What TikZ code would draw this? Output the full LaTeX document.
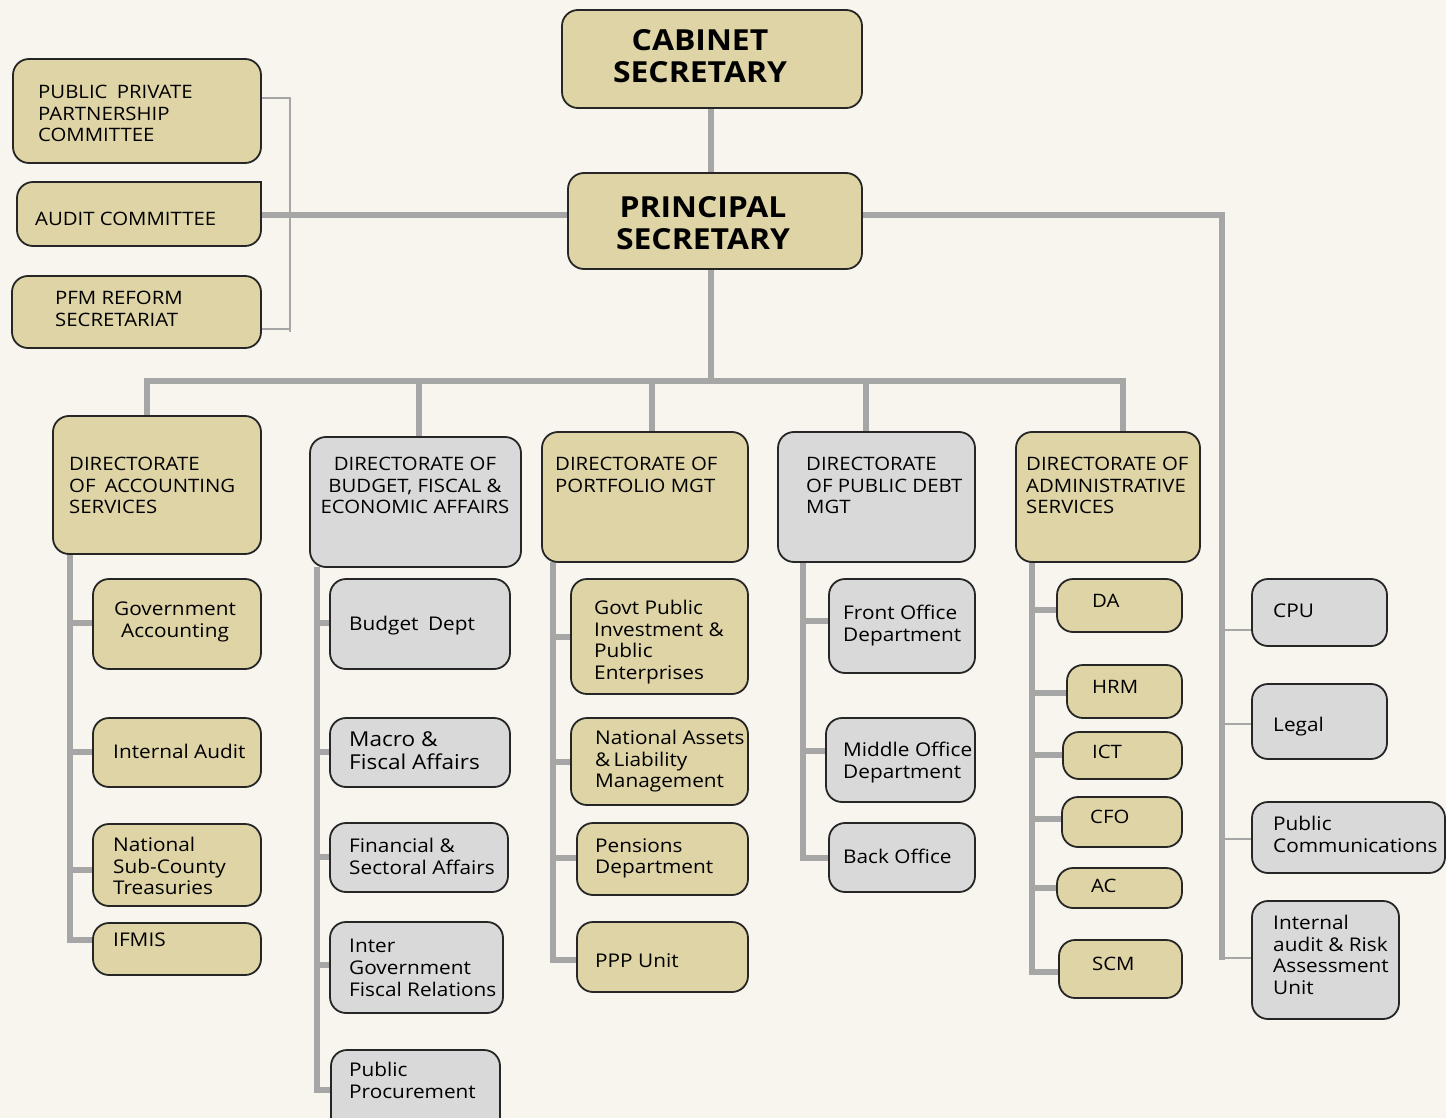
\documentclass[tikz,border=0pt]{standalone}
\usepackage{fontspec}
\setmainfont{Open Sans}[FakeStretch=1.1]
\definecolor{bgcol}{HTML}{F7F5EE}
\definecolor{tanfill}{HTML}{DED4A6}
\definecolor{greyfill}{HTML}{D9D9D9}
\definecolor{boxline}{HTML}{262626}
\definecolor{lineg}{HTML}{A6A6A6}
\pgfdeclarelayer{bglayer}
\pgfdeclarelayer{connlayer}
\pgfsetlayers{bglayer,connlayer,main}
\newcommand\mybox[6]{%
  \node[#2, minimum width={(#5-#3)*1pt}, minimum height={(#6-#4)*1pt}] (#1) at ({(#3+#5)/2},{(#4+#6)/2}) {};}
\begin{document}
\begin{tikzpicture}[x=1pt,y=-1pt,
  obox/.style={draw=boxline, line width=1.8pt, rounded corners=16pt, inner sep=0pt, outer sep=0pt},
  tanbox/.style={obox, fill=tanfill},
  greybox/.style={obox, fill=greyfill},
  capt/.style={inner sep=0pt, anchor=north west, align=left, font=\fontsize{18.5}{21.5}\selectfont},
  lowt/.style={inner sep=0pt, anchor=north west, align=left, font=\fontsize{18.9}{21.7}\selectfont},
  bigt/.style={inner sep=0pt, align=center, font=\bfseries\fontsize{29}{31.5}\selectfont},
  conn/.style={draw=lineg, line width=5.5pt},
  thinconn/.style={draw=lineg, line width=1.5pt}]
\useasboundingbox (0,0) rectangle (1446,1118);
\clip (0,0) rectangle (1446,1118);
\begin{pgfonlayer}{bglayer}
\fill[bgcol] (0,0) rectangle (1446,1118);
\end{pgfonlayer}

% top
\mybox{cab}{tanbox}{562}{10}{862}{108}
\mybox{ps}{tanbox}{568}{173}{862}{269}
\mybox{ppp}{tanbox}{13}{59}{261}{163}
\mybox{aud}{tanbox}{17}{182}{261}{246}
\fill[tanfill] ([xshift=-22pt]aud.north east) -- (aud.north east) -- ([yshift=-22pt]aud.north east) -- cycle;
\draw[boxline, line width=1.8pt] ([xshift=-22pt]aud.north east) -- (aud.north east) -- ([yshift=-22pt]aud.north east);
\mybox{pfm}{tanbox}{12}{276}{261}{348}
% directorates
\mybox{acc}{tanbox}{53}{416}{261}{554}
\mybox{bud}{greybox}{310}{437}{521}{567}
\mybox{por}{tanbox}{542}{432}{748}{562}
\mybox{dbt}{greybox}{778}{432}{975}{562}
\mybox{adm}{tanbox}{1016}{432}{1200}{562}
% accounting
\mybox{gacc}{tanbox}{93}{579}{261}{669}
\mybox{iaud}{tanbox}{93}{718}{261}{787}
\mybox{nsct}{tanbox}{93}{824}{261}{906}
\mybox{ifm}{tanbox}{93}{923}{261}{975}
% budget
\mybox{bdep}{greybox}{330}{579}{510}{669}
\mybox{mac}{greybox}{330}{718}{510}{787}
\mybox{fin}{greybox}{330}{823}{508}{892}
\mybox{igf}{greybox}{330}{922}{503}{1013}
\mybox{pp}{greybox}{331}{1050}{500}{1140}
% portfolio
\mybox{gpi}{tanbox}{571}{579}{748}{694}
\mybox{nal}{tanbox}{571}{718}{748}{805}
\mybox{pen}{tanbox}{577}{823}{748}{895}
\mybox{pppu}{tanbox}{577}{922}{748}{992}
% debt
\mybox{fro}{greybox}{829}{579}{975}{673}
\mybox{mid}{greybox}{826}{718}{975}{802}
\mybox{bko}{greybox}{829}{823}{975}{892}
% admin
\mybox{da}{tanbox}{1057}{579}{1182}{632}
\mybox{hrm}{tanbox}{1067}{665}{1182}{718}
\mybox{ict}{tanbox}{1063}{732}{1182}{779}
\mybox{cfo}{tanbox}{1062}{797}{1182}{847}
\mybox{ac}{tanbox}{1057}{868}{1182}{908}
\mybox{scm}{tanbox}{1059}{940}{1182}{998}
% right column
\mybox{cpu}{greybox}{1252}{579}{1387}{646}
\mybox{leg}{greybox}{1252}{684}{1387}{759}
\mybox{pcm}{greybox}{1252}{802}{1445}{873}
\mybox{iar}{greybox}{1252}{901}{1399}{1019}

% texts
\node[bigt] (cab-t) at (700,56) {CABINET\\SECRETARY};
\node[bigt] (ps-t) at (703,223) {PRINCIPAL\\SECRETARY};
\node[capt] (ppp-t) at (38,85) {PUBLIC\enspace PRIVATE\\PARTNERSHIP\\COMMITTEE};
\node[capt] (aud-t) at (35,212) {AUDIT COMMITTEE};
\node[capt] (pfm-t) at (55,291) {PFM REFORM\\SECRETARIAT};
\node[capt] (acc-t) at (69,457) {DIRECTORATE\\OF\enspace ACCOUNTING\\SERVICES};
\node[capt, anchor=north, align=center] (bud-t) at (415,457) {DIRECTORATE OF\\BUDGET, FISCAL \&\\ECONOMIC AFFAIRS};
\node[capt] (por-t) at (555,457) {DIRECTORATE OF\\PORTFOLIO MGT};
\node[capt] (dbt-t) at (806,457) {DIRECTORATE\\OF PUBLIC DEBT\\MGT};
\node[capt] (adm-t) at (1026,457) {DIRECTORATE OF\\ADMINISTRATIVE\\SERVICES};

\node[lowt, anchor=north, align=center] (gacc-t) at (175,602) {Government\\Accounting};
\node[lowt] (iaud-t) at (113,744) {Internal Audit};
\node[lowt] (nsct-t) at (113,837) {National\\Sub-County\\Treasuries};
\node[lowt] (ifm-t) at (113,933) {IFMIS};

\node[lowt] (bdep-t) at (349,616) {Budget\enspace Dept};
\node[lowt, font=\fontsize{20.5}{23}\selectfont] (mac-t) at (349,731) {Macro \&\\Fiscal Affairs};
\node[lowt] (fin-t) at (349,838) {Financial \&\\Sectoral Affairs};
\node[lowt] (igf-t) at (349,939) {Inter\\Government\\Fiscal Relations};
\node[lowt] (pp-t) at (349,1062) {Public\\Procurement};

\node[lowt] (gpi-t) at (594,600) {Govt Public\\Investment \&\\Public\\Enterprises};
\node[lowt] (nal-t) at (595,730) {National Assets\\\&\,Liability\\Management};
\node[lowt] (pen-t) at (595,838) {Pensions\\Department};
\node[lowt] (pppu-t) at (595,953) {PPP Unit};

\node[lowt] (fro-t) at (843,605) {Front Office\\Department};
\node[lowt] (mid-t) at (843,742) {Middle Office\\Department};
\node[lowt] (bko-t) at (843,849) {Back Office};

\node[capt] (da-t) at (1092,594) {DA};
\node[capt] (hrm-t) at (1092,680) {HRM};
\node[capt] (ict-t) at (1092,745) {ICT};
\node[capt] (cfo-t) at (1090,810) {CFO};
\node[capt] (ac-t) at (1091,879) {AC};
\node[capt] (scm-t) at (1092,957) {SCM};

\node[lowt] (cpu-t) at (1273,604) {CPU};
\node[lowt] (leg-t) at (1273,717) {Legal};
\node[lowt] (pcm-t) at (1273,816) {Public\\Communications};
\node[lowt] (iar-t) at (1273,915) {Internal\\audit \& Risk\\Assessment\\Unit};

% connectors
\begin{pgfonlayer}{connlayer}
\draw[conn] (711,0 |- cab.south) -- (711,0 |- ps.north);
\draw[conn] (aud.east |- 0,215) -- (ps.west |- 0,215);
\draw[thinconn] (ppp.east |- 0,98) -- (290,98) -- (290,332);
\draw[thinconn] (290,329) -- (pfm.east |- 0,329);
\draw[conn] (ps.east |- 0,215) -- (1222,215) -- (1222,960);
\draw[thinconn] (1222,630) -- (cpu.west |- 0,630);
\draw[thinconn] (1222,724) -- (leg.west |- 0,724);
\draw[thinconn] (1222,839) -- (pcm.west |- 0,839);
\draw[thinconn] (1222,958) -- (iar.west |- 0,958);
\draw[conn] (711,0 |- ps.south) -- (711,381);
\draw[conn] (147,0 |- acc.north) -- (147,381) -- (1123,381) -- (1123,0 |- adm.north);
\draw[conn] (419,381) -- (419,0 |- bud.north);
\draw[conn] (652,381) -- (652,0 |- por.north);
\draw[conn] (866,381) -- (866,0 |- dbt.north);
% accounting
\draw[conn] (70,0 |- acc.south) -- (70,940) -- (ifm.west |- 0,940);
\draw[conn] (70,623) -- (gacc.west |- 0,623);
\draw[conn] (70,752) -- (iaud.west |- 0,752);
\draw[conn] (70,870) -- (nsct.west |- 0,870);
% budget
\draw[conn] (317,0 |- bud.south) -- (317,1090) -- (pp.west |- 0,1090);
\draw[conn] (317,623) -- (bdep.west |- 0,623);
\draw[conn] (317,752) -- (mac.west |- 0,752);
\draw[conn] (317,857) -- (fin.west |- 0,857);
\draw[conn] (317,965) -- (igf.west |- 0,965);
% portfolio
\draw[conn] (553,0 |- por.south) -- (553,960) -- (pppu.west |- 0,960);
\draw[conn] (553,637) -- (gpi.west |- 0,637);
\draw[conn] (553,762) -- (nal.west |- 0,762);
\draw[conn] (553,858) -- (pen.west |- 0,858);
% debt
\draw[conn] (803,0 |- dbt.south) -- (803,858) -- (bko.west |- 0,858);
\draw[conn] (803,621) -- (fro.west |- 0,621);
\draw[conn] (803,751) -- (mid.west |- 0,751);
% admin
\draw[conn] (1032,0 |- adm.south) -- (1032,972) -- (scm.west |- 0,972);
\draw[conn] (1032,610) -- (da.west |- 0,610);
\draw[conn] (1032,693) -- (hrm.west |- 0,693);
\draw[conn] (1032,755) -- (ict.west |- 0,755);
\draw[conn] (1032,819) -- (cfo.west |- 0,819);
\draw[conn] (1032,888) -- (ac.west |- 0,888);
\end{pgfonlayer}
\end{tikzpicture}
\end{document}
